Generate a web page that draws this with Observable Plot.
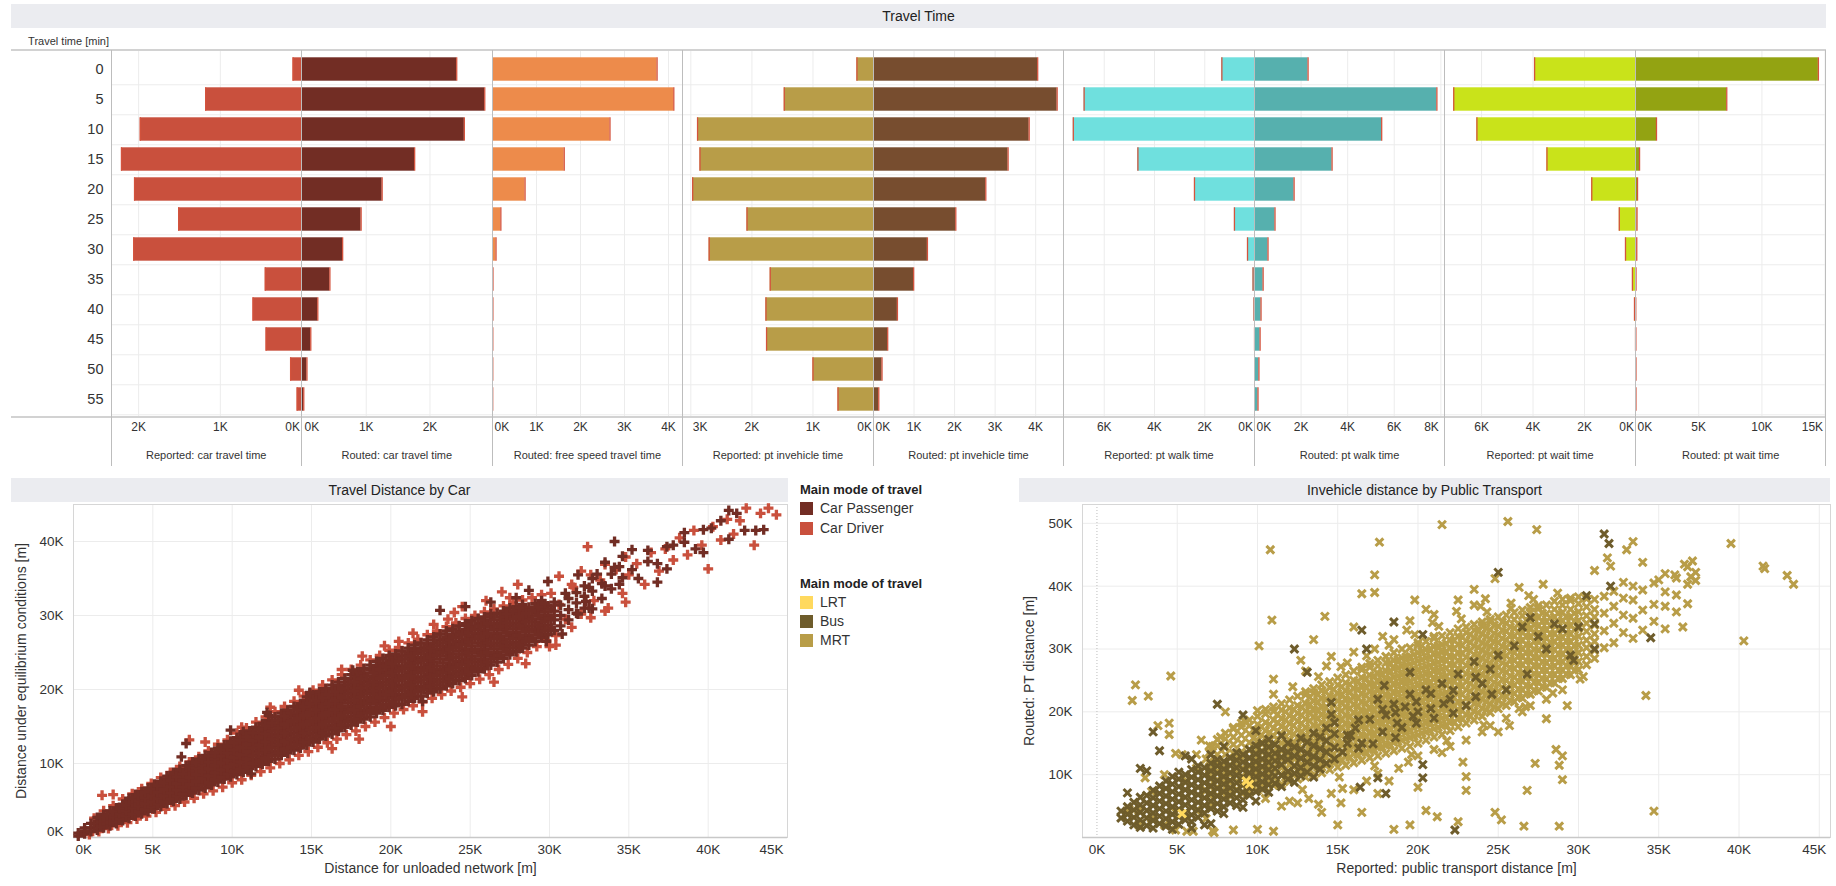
<!DOCTYPE html>
<html><head><meta charset="utf-8">
<script src="https://cdn.jsdelivr.net/npm/d3@7"></script>
<script src="https://cdn.jsdelivr.net/npm/@observablehq/plot@0.6"></script>
<style>
html,body{margin:0;padding:0;background:#fff;}
#root{position:relative;width:1836px;height:886px;overflow:hidden;font-family:"Liberation Sans",Arial,Helvetica,sans-serif;color:#333;}
#root svg{position:absolute;overflow:visible;}
.tbar{position:absolute;background:#ebecf0;color:#222;font-size:14px;display:flex;align-items:center;justify-content:center;}
.txt{position:absolute;white-space:nowrap;}
</style></head>
<body><div id="root"></div>
<script>
// ---------------- DATA ----------------
const travelTimeBins = [0,5,10,15,20,25,30,35,40,45,50,55];
const reportedCarTravelTime   = [110,1180,1980,2210,2050,1510,2060,450,600,440,140,60];
const routedCarTravelTime     = [2420,2860,2540,1760,1250,920,630,430,240,130,70,20];
const routedFreeSpeedTime     = [3740,4120,2670,1630,740,190,80,10,8,6,5,4];
const reportedPtInvehicleTime = [280,1470,2890,2850,2970,2080,2700,1700,1770,1760,1000,590];
const routedPtInvehicleTime   = [4050,4530,3840,3320,2770,2030,1330,990,590,350,210,130];
const reportedPtWalkTime      = [1320,6800,7230,4660,2410,820,300,80,40,20,10,10];
const routedPtWalkTime        = [2300,7830,5460,3330,1700,880,580,370,280,240,190,150];
const reportedPtWaitTime      = [3940,7080,6180,3460,1720,650,410,140,60,20,10,10];
const routedPtWaitTime        = [14470,7220,1660,320,160,120,100,40,20,20,10,10];
const panelLabels = ["Reported: car travel time","Routed: car travel time","Routed: free speed travel time",
  "Reported: pt invehicle time","Routed: pt invehicle time","Reported: pt walk time","Routed: pt walk time",
  "Reported: pt wait time","Routed: pt wait time"];
const panelTicks = [[0,1000,2000],[0,1000,2000],[0,1000,2000,3000,4000],[0,1000,2000,3000],[0,1000,2000,3000,4000],
  [0,2000,4000,6000],[0,2000,4000,6000,8000],[0,2000,4000,6000],[0,5000,10000,15000]];
const panelDomainMax = [2332,2990,4330,3120,4700,7580,8180,7400,15075];

// scatter points: each entry = [x, y1, y2, ...], thousands of metres
const carPassengerPoints = [
[0.3,0.2,0.6],[0.7,0.5,0.9,1.3],[1.1,0.8,1.3,1.9],[1.5,1.0,1.6,2.2,2.7],[1.9,1.3,1.9,2.5,3.1],[2.3,1.6,2.3,2.9,3.6],
[2.7,1.9,2.6,3.3,4.0],[3.1,2.3,3.0,3.7,4.5],[3.5,2.6,3.4,4.1,4.9,5.3],[3.9,2.9,3.7,4.5,5.2,5.8],[4.3,3.2,4.0,4.8,5.6,6.2],
[4.7,3.5,4.3,5.1,5.9,6.7],[5.1,3.9,4.7,5.5,6.3,7.2],[5.5,4.2,5.1,5.9,6.7,7.6],[5.9,4.6,5.4,6.2,7.1,7.9,8.3],
[6.3,4.9,5.8,6.6,7.5,8.4,8.8],[6.7,5.2,6.1,7.0,7.9,8.8,9.2],[7.1,5.7,6.6,7.4,8.3,9.2,9.7,12.7],[7.5,6.0,6.9,7.8,8.7,9.6,10.2],
[7.9,6.4,7.3,8.2,9.1,10.0,10.6],[8.3,6.7,7.6,8.6,9.5,10.4,11.1],[8.7,7.1,8.0,9.0,9.9,10.8,11.5],[9.1,7.5,8.4,9.4,10.3,11.2,12.1],
[9.5,7.9,8.8,9.8,10.7,11.7,12.5],[9.9,8.2,9.2,10.1,11.1,12.1,13.0,14.5],[10.3,8.5,9.5,10.5,11.5,12.5,13.5],
[10.7,8.8,9.8,10.9,11.9,12.9,13.9,14.3],[11.1,9.3,10.3,11.3,12.4,13.4,14.4],[11.5,9.6,10.6,11.7,12.8,13.8,14.9],
[11.9,9.9,11.0,12.1,13.2,14.3,15.4],[12.3,10.3,11.4,12.5,13.6,14.7,15.8,16.5],[12.7,10.6,11.7,12.9,14.0,15.1,16.3],
[13.1,11.1,12.2,13.3,14.5,15.6,16.8],[13.5,11.4,12.5,13.7,14.9,16.0,17.2],[13.9,11.8,12.9,14.1,15.3,16.5,17.7],
[14.3,12.1,13.3,14.5,15.7,16.9,18.1],[14.7,12.5,13.7,14.9,16.1,17.3,18.5,19.0],[15.1,12.9,14.1,15.3,16.5,17.7,18.9,19.3],
[15.5,13.3,14.5,15.7,16.9,18.1,19.3,19.7],[15.9,13.7,14.9,16.1,17.3,18.5,19.7,20.1],[16.3,14.0,15.2,16.5,17.7,18.9,20.1,20.6],
[16.7,14.4,15.6,16.9,18.1,19.3,20.5,21.0],[17.1,14.9,16.1,17.3,18.6,19.8,21.0,21.5],[17.5,15.2,16.4,17.7,19.0,20.2,21.4,22.0],
[17.9,15.6,16.8,18.1,19.4,20.6,21.8,22.4],[18.3,16.0,17.2,18.5,19.8,21.0,22.2,22.8],[18.7,16.3,17.6,18.9,20.2,21.4,22.7,23.3],
[19.1,16.8,18.1,19.3,20.6,21.9,23.1,23.8],[19.5,17.2,18.5,19.7,21.0,22.3,23.5,24.2],[19.9,17.6,18.9,20.1,21.4,22.7,23.9,24.6],
[20.3,17.8,19.1,20.4,21.6,22.9,24.2,24.8],[20.7,18.0,19.3,20.6,21.9,23.2,24.5,25.2],[21.1,18.4,19.7,21.0,22.3,23.6,24.9,25.6],
[21.5,18.8,20.1,21.4,22.7,24.0,25.3,26.0],[21.9,19.1,20.4,21.7,23.0,24.3,25.6,26.3],[22.3,19.5,20.8,22.1,23.4,24.7,26.0,26.7],
[22.7,19.7,21.0,22.3,23.7,25.0,26.3,27.1],[23.1,20.1,21.4,22.7,24.1,25.4,26.7,27.5,30.7],[23.5,20.5,21.8,23.1,24.5,25.8,27.1,27.9],
[23.9,20.8,22.1,23.4,24.8,26.1,27.4,28.2],[24.3,21.2,22.5,23.8,25.2,26.5,27.8,28.6],[24.7,21.5,22.8,24.1,25.5,26.8,28.1,28.9,31.2],
[25.1,21.9,23.2,24.5,25.9,27.2,28.5,29.3],[25.5,22.4,23.7,25.0,26.3,27.6,28.9,29.6],[25.9,22.8,24.1,25.4,26.7,28.0,29.3,29.8],
[26.3,23.3,24.6,25.9,27.2,28.5,29.8,30.2,31.8],[26.7,23.7,25.0,26.3,27.6,28.9,30.3],[27.1,24.2,25.5,26.8,28.1,29.4,30.6],
[27.5,24.7,26.0,27.3,28.6,29.9,31.0],[27.9,25.1,26.4,27.7,29.0,30.3,31.2,32.4],[28.3,25.6,26.9,28.2,29.5,30.7,31.5],
[28.7,26.0,27.3,28.6,29.9,31.1,33.4],[29.1,26.5,27.8,29.1,30.4,31.6],[29.5,27.0,28.3,29.6,30.9,32.0],[29.9,27.4,28.7,30.0,31.3,34.6],
[30.3,28.0,29.4,30.6,31.8],[30.7,28.6,30.0,31.4],
[1.7,1.5,2.1,2.7],[2.1,1.8,2.4,3.0],[2.5,2.2,2.8,3.5],[2.9,2.5,3.2,3.9],[3.3,2.9,3.6,4.3],[3.7,3.2,4.0,4.7,5.3],
[4.1,3.5,4.3,5.0,5.7],[4.5,3.8,4.6,5.4,6.1],[4.9,4.1,4.9,5.7,6.5],[5.3,4.5,5.3,6.1,7.0],[5.7,4.9,5.7,6.5,7.4],
[6.1,5.2,6.0,6.9,7.7],[6.5,5.6,6.4,7.3,8.2],[6.9,5.9,6.8,7.7,8.6],[7.3,6.4,7.2,8.1,9.0,9.6],[7.7,6.7,7.6,8.5,9.4,10.1],
[8.1,7.1,8.0,8.9,9.8,10.5],[8.5,7.4,8.3,9.3,10.2,11.0],[8.9,7.8,8.7,9.7,10.6,11.4],[9.3,8.2,9.1,10.1,11.0,11.9],
[9.7,8.6,9.5,10.5,11.4,12.3],[10.1,8.9,9.9,10.8,11.8,12.8],[10.5,9.2,10.2,11.2,12.2,13.2],[10.9,9.5,10.6,11.6,12.6,13.6],
[11.3,10.0,11.0,12.1,13.1,14.1],[11.7,10.3,11.4,12.5,13.5,14.6],[12.1,10.7,11.8,12.9,14.0,15.1],[12.5,11.1,12.2,13.3,14.4,15.5],
[12.9,11.4,12.5,13.7,14.8,15.9],[13.3,11.9,13.0,14.1,15.3,16.4],[13.7,12.2,13.3,14.5,15.7,16.8],[14.1,12.6,13.7,14.9,16.1,17.3],
[14.5,12.9,14.1,15.3,16.5,17.7],[14.9,13.3,14.5,15.7,16.9,18.1],[15.3,13.7,14.9,16.1,17.3,18.5],[15.7,14.1,15.3,16.5,17.7,18.9],
[16.1,14.5,15.7,16.9,18.1,19.3],[16.5,14.8,16.1,17.3,18.5,19.7],[16.9,15.2,16.5,17.7,18.9,20.1],[17.3,15.7,16.9,18.2,19.4,20.6],
[17.7,16.0,17.3,18.6,19.8,21.0],[18.1,16.4,17.7,19.0,20.2,21.4],[18.5,16.8,18.1,19.4,20.6,21.8],[18.9,17.2,18.5,19.8,21.0,22.3],
[19.3,17.6,18.9,20.2,21.5,22.7],[19.7,18.0,19.3,20.6,21.9,23.1],[20.1,18.4,19.7,21.0,22.3,23.5],[20.5,18.7,19.9,21.2,22.5,23.8],
[20.9,18.9,20.2,21.5,22.8,24.1],[21.3,19.3,20.6,21.9,23.2,24.5],[21.7,19.7,21.0,22.3,23.6,24.9],[22.1,20.0,21.3,22.6,23.9,25.2],
[22.5,20.4,21.7,23.0,24.3,25.6],[22.9,20.6,21.9,23.2,24.6,25.9],[23.3,21.0,22.3,23.6,25.0,26.3],[23.7,21.4,22.7,24.0,25.4,26.7],
[24.1,21.7,23.0,24.3,25.7,27.0],[24.5,22.1,23.4,24.7,26.1,27.4],[24.9,22.4,23.7,25.0,26.4,27.7],[25.3,22.8,24.1,25.4,26.8,28.1],
[25.7,23.3,24.6,25.9,27.2,28.5],[26.1,23.7,25.0,26.3,27.6,28.9],[26.5,24.2,25.5,26.8,28.1,29.4],[26.9,24.6,25.9,27.2,28.5,29.8],
[27.3,25.1,26.4,27.7,29.0,30.2],[27.7,25.6,26.9,28.2,29.5,30.6],[28.1,26.0,27.3,28.6,29.9,31.0],[28.5,26.5,27.8,29.1,30.3],
[28.9,26.9,28.2,29.5,30.7],[29.3,27.4,28.7,30.0,31.2],[29.7,27.9,29.2,30.5,31.6],[30.1,28.3,29.6,30.9],
[31.2,29.4,30.8,32.3],[31.7,30.3,31.7,33.1],[32.2,31.0,32.6,34.0],[32.7,30.9,33.3,35.0],[33.3,32.3,34.3],[33.9,33.6,35.6],[34.4,34.2,36.6],
[31.0,33.0],[31.8,35.5,30.2],[32.5,33.8,31.0],[33.0,35.6],[33.5,37.2,34.0],
[34.1,40.0,36.5],[34.6,38.0,35.1],[35.2,36.2,38.9],[35.6,35.0],[36.2,38.8,37.3],[36.8,37.0,34.5],[37.4,39.3,36.3],[37.8,39.5],
[38.5,41.2,39.9],[39.2,39.0],[39.7,38.5,41.6],[40.2,41.8],[40.8,42.8],[41.3,40.3,44.2],[41.8,43.8],[42.3,41.5],[43.0,41.5],
[43.5,41.6],[30.8,27.5],[29.8,26.5],[32.3,31.9],[6.8,10.9],[12.2,16.9],[14.9,19.6],[17.6,22.6],[11.2,8.6],[22.0,18.4]
];
const carDriverPoints = [
[1.0,0.4],[1.6,0.8],[2.2,1.2],[2.8,1.6],[3.4,2.0],[4.0,2.5],[4.6,2.9],[5.2,3.4],[5.8,3.8],[6.4,4.3],[7.0,4.8],[7.6,5.3],
[8.2,5.9],[8.8,6.3],[9.4,6.8],[10.0,7.4],[10.6,7.8],[11.2,8.4],[11.8,8.9],[12.4,9.4],[13.0,10.0],[13.6,10.5],[14.2,11.1],
[14.8,11.6],[15.4,12.2],[16.0,12.8],[16.6,13.3],[17.2,13.9],[17.8,14.4],[18.4,15.0],[19.0,15.6],[19.6,16.2],[20.2,16.8],
[20.8,17.3],[21.4,17.8],[22.0,18.3],[22.6,18.8],[23.2,19.3],[23.8,19.8],[24.4,20.3],[25.0,20.8],[25.6,21.4],[26.2,22.0],
[26.8,22.7],[27.4,23.4],[28.0,24.2],[28.6,25.0],[29.2,25.8],[29.8,26.6],[30.4,27.3],
[1.3,2.6],[1.9,3.6],[2.5,4.3],[3.1,5.2],[3.7,5.9],[4.3,6.6],[4.9,7.3],[5.5,8.1],[6.1,8.8],[6.7,9.6],[7.3,10.2],[7.9,10.9],
[8.5,11.7],[9.1,12.6],[9.7,13.2],[10.3,14.1],[10.9,14.8],[11.5,15.6],[12.1,16.3],[12.7,17.0],[13.3,17.7],[13.9,18.4],
[14.5,19.1],[15.1,19.9],[15.7,20.6],[16.3,21.3],[16.9,22.0],[17.5,22.7],[18.1,23.3],[18.7,24.0],[19.3,24.6],[19.9,25.3],
[20.5,25.7],[21.1,26.3],[21.7,26.8],[22.3,27.4],[22.9,27.9],[23.5,28.5],[24.1,29.0],[24.7,29.6],[25.3,30.0],[25.9,30.5],
[26.5,30.9],[27.1,31.3],[27.7,31.7],[28.3,32.1],[28.9,32.4],[29.5,32.8],[30.1,33.0],
[1.8,5.7],[2.5,5.8],[7.3,13.2],[8.3,12.9],[10.6,14.9],[12.4,17.6],[14.2,19.9],[16.9,22.7],[18.2,24.5],[19.6,25.9],[20.5,26.5],
[21.4,27.6],[22.7,28.8],[23.6,29.5],[24.5,31.2],[24.0,30.4],[18.0,13.3],[20.0,15.0],[22.0,17.0],[24.5,19.0],[26.5,21.0],
[28.5,23.5],[30.0,25.8],[27.5,32.4],[16.3,12.0],[31.4,28.4,34.2],[32.6,29.7,35.5],[33.5,30.6,36.9],[34.8,31.8,37.9],
[30.6,31.5,35.3],[31.0,29.5],[31.5,33.8],[32.0,30.2,36.0],[32.4,39.3],[32.8,32.0],[33.2,34.8],[33.7,31.0],[34.2,36.2],
[34.6,33.0],[35.0,35.5],[35.5,37.0],[36.0,34.2],[36.4,38.5],[36.9,36.0],[37.3,39.0],[37.8,37.5],[38.2,40.5],[38.7,38.2],
[39.1,41.5],[39.6,39.5],[40.0,36.3],[40.3,42.0],[40.8,40.2],[41.2,43.0],[41.6,41.0],[42.0,42.8],[42.4,44.5],[42.9,39.5],
[43.3,43.8],[43.8,44.5],[44.3,43.6],[30.4,26.0],[28.0,34.2],[27.0,33.2],[26.0,32.0]
];
const ptMrtPoints = [
[7.0,6.8,8.2,9.4,10.9,12.1,13.5,14.6],[7.5,6.7,8.0,9.2,10.6,11.9,13.2,14.6,15.6],[8.0,6.6,7.9,9.3,10.5,11.8,13.2,14.4,15.7,16.6],
[8.5,6.9,8.2,9.5,10.9,12.1,13.4,14.8,16.0,17.3],[9.0,7.1,8.4,9.7,11.0,12.4,13.6,15.0,16.3,17.6,18.2],
[9.5,7.3,8.6,10.0,11.2,12.6,13.9,15.1,16.5,17.8,18.7],[10.0,7.5,8.8,10.1,11.5,12.7,14.1,15.4,16.6,18.0,19.3,20.2],
[10.5,7.9,9.2,10.5,11.9,13.1,14.4,15.8,17.0,18.3,19.7,20.4],[11.0,8.3,9.6,10.9,12.3,13.5,14.8,16.2,17.4,18.7,20.1,20.8],
[11.5,8.5,9.9,11.1,12.5,13.8,15.0,16.4,17.7,18.9,20.3,21.3],[12.0,8.9,10.2,11.6,12.8,14.2,15.5,16.7,18.1,19.4,20.6,21.9],
[12.5,9.3,10.6,12.0,13.2,14.6,15.9,17.1,18.5,19.8,21.0,22.5],[13.0,9.6,10.9,12.3,13.5,14.9,16.2,17.4,18.8,20.1,21.3,22.7,23.2],
[13.5,9.9,11.3,12.5,13.9,15.2,16.4,17.8,19.1,20.3,21.7,23.0,23.7],[14.0,10.3,11.7,12.9,14.3,15.6,16.8,18.2,19.5,20.7,22.1,23.4,24.3],
[14.5,10.8,12.1,13.5,14.7,16.1,17.4,18.6,20.0,21.3,22.5,23.9,24.8],[15.0,11.2,12.5,13.9,15.1,16.5,17.8,19.0,20.4,21.7,22.9,24.3,25.4],
[15.5,11.5,12.9,14.1,15.5,16.8,18.0,19.4,20.7,21.9,23.3,24.6,25.9],[16.0,11.9,13.3,14.5,15.9,17.2,18.4,19.8,21.1,22.3,23.7,25.0,26.5],
[16.5,12.3,13.6,15.0,16.2,17.6,18.9,20.1,21.5,22.8,24.0,25.4,26.7,27.1],[17.0,12.7,14.0,15.4,16.6,18.0,19.3,20.5,21.9,23.2,24.4,25.8,27.1,27.7],
[17.5,13.0,14.4,15.6,17.0,18.3,19.5,20.9,22.2,23.4,24.8,26.1,27.3,28.2],[18.0,13.4,14.7,16.1,17.3,18.7,20.0,21.2,22.6,23.9,25.1,26.5,27.8,28.8],
[18.5,13.8,15.1,16.5,17.7,19.1,20.4,21.6,23.0,24.3,25.5,26.9,28.2,29.4],[19.0,14.2,15.5,16.9,18.1,19.5,20.8,22.0,23.4,24.7,25.9,27.3,28.6,30.0],
[19.5,14.5,15.9,17.1,18.5,19.8,21.0,22.4,23.7,24.9,26.3,27.6,28.8,30.2],[20.0,15.0,16.3,17.7,18.9,20.3,21.6,22.8,24.2,25.5,26.7,28.1,29.4,30.6,31.0],
[20.5,15.5,16.8,18.2,19.4,20.8,22.1,23.3,24.7,26.0,27.2,28.6,29.9,31.2],[21.0,16.0,17.3,18.7,19.9,21.3,22.6,23.8,25.2,26.5,27.7,29.1,30.4,31.7,32.0],
[21.5,16.4,17.8,19.0,20.4,21.7,22.9,24.3,25.6,26.8,28.2,29.5,30.7,32.1],[22.0,17.0,18.3,19.7,20.9,22.3,23.6,24.8,26.2,27.5,28.7,30.1,31.4,32.6],
[22.5,17.6,18.9,20.3,21.5,22.9,24.2,25.4,26.8,28.1,29.3,30.7,32.0,33.2],[23.0,18.2,19.5,20.9,22.1,23.5,24.8,26.0,27.4,28.7,29.9,31.3,32.6,33.5],
[23.5,18.7,20.1,21.3,22.7,24.0,25.2,26.6,27.9,29.1,30.5,31.8,33.0,33.9],[24.0,19.3,20.6,22.0,23.2,24.6,25.9,27.1,28.5,29.8,31.0,32.4,33.7,34.3],
[24.5,19.9,21.2,22.6,23.8,25.2,26.5,27.7,29.1,30.4,31.6,33.0,34.3,34.7],[25.0,20.5,21.8,23.2,24.4,25.8,27.1,28.3,29.7,31.0,32.2,33.6,35.1],
[25.5,21.0,22.4,23.6,25.0,26.3,27.5,28.9,30.2,31.4,32.8,34.1,35.4],[26.0,21.6,22.9,24.3,25.5,26.9,28.2,29.4,30.8,32.1,33.3,34.7,35.8],
[26.5,22.2,23.5,24.9,26.1,27.5,28.8,30.0,31.4,32.7,33.9,35.3,36.2],[27.0,22.8,24.1,25.5,26.7,28.1,29.4,30.6,32.0,33.3,34.5,35.9,36.6],
[27.5,23.3,24.7,25.9,27.3,28.6,29.8,31.2,32.5,33.7,35.1,36.4,36.9],[28.0,23.9,25.2,26.6,27.8,29.2,30.5,31.7,33.1,34.4,35.6,37.0],
[28.5,24.6,25.9,27.3,28.5,29.9,31.2,32.4,33.8,35.1,36.3,37.6],[29.0,25.3,26.6,28.0,29.2,30.6,31.9,33.1,34.5,35.8,37.0,37.9],
[29.5,25.9,27.3,28.5,29.9,31.2,32.4,33.8,35.1,36.3,37.7,38.1],[30.0,26.7,28.0,29.4,30.6,32.0,33.3,34.5,35.9,37.2,38.3],
[30.5,27.5,28.8,30.2,31.4,32.8,34.1,35.3,36.7,38.0],[31.0,28.5,29.8,31.2,32.4,33.8,35.1,36.3,37.9],[31.6,30.2,32.9,35.7,38.4],
[9.75,8.0,9.3,10.6,11.9,13.2,14.5,15.8,17.1],[10.25,8.5,9.8,11.1,12.4,13.7,15.0,16.3,17.6],[10.75,8.9,10.2,11.5,12.8,14.1,15.4,16.7,18.0],
[11.25,9.2,10.5,11.8,13.1,14.4,15.7,17.0,18.3,19.6],[11.75,9.6,10.9,12.2,13.5,14.8,16.1,17.4,18.7,20.0],
[12.25,10.0,11.3,12.6,13.9,15.2,16.5,17.8,19.1,20.4],[12.75,10.4,11.7,13.0,14.3,15.6,16.9,18.2,19.5,20.8],
[13.25,10.8,12.1,13.4,14.7,16.0,17.3,18.6,19.9,21.2,22.3],[13.75,11.2,12.5,13.8,15.1,16.4,17.7,19.0,20.3,21.6,22.8],
[14.25,11.6,12.9,14.2,15.5,16.8,18.1,19.4,20.7,22.0,23.2],[14.75,12.0,13.3,14.6,15.9,17.2,18.5,19.8,21.1,22.4,23.6],
[15.25,12.4,13.7,15.0,16.3,17.6,18.9,20.2,21.5,22.8,24.0],[15.75,12.8,14.1,15.4,16.7,18.0,19.3,20.6,21.9,23.2,24.4],
[16.25,13.2,14.5,15.8,17.1,18.4,19.7,21.0,22.3,23.6,24.9],[16.75,13.6,14.9,16.2,17.5,18.8,20.1,21.4,22.7,24.0,25.3],
[17.25,14.0,15.3,16.6,17.9,19.2,20.5,21.8,23.1,24.4,25.7],[17.75,14.4,15.7,17.0,18.3,19.6,20.9,22.2,23.5,24.8,26.1],
[18.25,14.8,16.1,17.4,18.7,20.0,21.3,22.6,23.9,25.2,26.5,27.8],[18.75,15.3,16.6,17.9,19.2,20.5,21.8,23.1,24.4,25.7,27.0,28.3],
[19.25,15.7,17.0,18.3,19.6,20.9,22.2,23.5,24.8,26.1,27.4,28.7],[19.75,16.1,17.4,18.7,20.0,21.3,22.6,23.9,25.2,26.5,27.8,29.1],
[20.25,16.6,17.9,19.2,20.5,21.8,23.1,24.4,25.7,27.0,28.3,29.6],[20.75,17.0,18.3,19.6,20.9,22.2,23.5,24.8,26.1,27.4,28.7,30.0],
[21.25,17.5,18.8,20.1,21.4,22.7,24.0,25.3,26.6,27.9,29.2,30.5],[21.75,17.9,19.2,20.5,21.8,23.1,24.4,25.7,27.0,28.3,29.6,30.9],
[22.25,18.4,19.7,21.0,22.3,23.6,24.9,26.2,27.5,28.8,30.1,31.4],[22.75,18.9,20.2,21.5,22.8,24.1,25.4,26.7,28.0,29.3,30.6,31.9],
[23.25,19.3,20.6,21.9,23.2,24.5,25.8,27.1,28.4,29.7,31.0,32.3],[23.75,19.8,21.1,22.4,23.7,25.0,26.3,27.6,28.9,30.2,31.5,32.8],
[24.25,20.3,21.6,22.9,24.2,25.5,26.8,28.1,29.4,30.7,32.0,33.3],[24.75,20.8,22.1,23.4,24.7,26.0,27.3,28.6,29.9,31.2,32.5,33.8],
[25.25,21.3,22.6,23.9,25.2,26.5,27.8,29.1,30.4,31.7,33.0,34.3],[25.75,21.8,23.1,24.4,25.7,27.0,28.3,29.6,30.9,32.2,33.5],
[26.25,22.3,23.6,24.9,26.2,27.5,28.8,30.1,31.4,32.7,34.0],[26.75,22.9,24.2,25.5,26.8,28.1,29.4,30.7,32.0,33.3,34.6],
[27.25,23.4,24.7,26.0,27.3,28.6,29.9,31.2,32.5,33.8,35.1],[27.75,24.0,25.3,26.6,27.9,29.2,30.5,31.8,33.1,34.4,35.7],
[28.25,24.6,25.9,27.2,28.5,29.8,31.1,32.4,33.7,35.0],[28.75,25.3,26.6,27.9,29.2,30.5,31.8,33.1,34.4,35.7],
[29.25,26.0,27.3,28.6,29.9,31.2,32.5,33.8,35.1],[29.75,26.6,27.9,29.2,30.5,31.8,33.1,34.4,35.7],
[12.2,24.0],[13.8,25.6],[15.2,27.2],[16.8,28.9],[18.2,30.6],[19.8,32.3],[21.3,33.6],[22.7,34.8],[24.3,35.9],[25.8,37.3],
[27.2,37.9],[28.7,38.9],[11.0,22.8],[14.6,28.8],[17.8,32.0],[20.9,34.2],[23.9,36.8],[26.9,38.5],
[10.5,6.2],[12.8,7.6],[15.1,9.6],[17.3,11.4],[19.6,13.2],[21.8,15.4],[24.1,17.9],[26.3,20.5],[28.4,23.0],[30.3,25.6],
[32.2,31.0,34.1,36.8,39.2],[32.8,32.6,35.4,38.1,40.6],[33.4,31.7,34.9,37.8,40.0],[34.0,33.0,36.2,39.4],[34.7,34.4,37.1,40.5],
[35.4,33.2,36.8,39.1,42.0],[36.1,35.9,38.6,41.3],[36.8,37.2,40.3,43.1],[37.3,40.9,42.2],
[2.2,21.8],[2.4,24.3],[3.2,22.5],[3.8,17.8],[4.5,18.2,16.4],[4.6,25.7],[10.8,45.8],[10.1,30.5],[10.9,34.6],[11.0,25.2,1.0],
[10.0,1.3],[6.0,1.0],[7.3,0.8],[8.5,1.2],[14.0,4.0],[15.0,2.0],[15.2,5.5],[16.5,4.0],[17.5,7.0],[18.5,1.3],[19.5,2.0],
[20.0,8.0],[20.5,4.3],[21.2,3.3],[22.5,2.5],[21.5,49.8],[25.6,50.3],[27.4,49.0],[17.6,47.0],[17.3,41.8,39.0],[16.5,38.8],
[19.8,37.8],[22.5,37.8],[24.8,41.2],[26.3,39.8],[27.8,40.3],[23.5,39.5,37.0],[22.8,12.0],[23.0,9.7,7.5],[24.8,4.0],[25.2,2.8],
[25.7,17.8],[25.0,16.8],[26.7,20.8],[26.8,7.5],[26.6,1.8],[27.3,11.8],[28.6,14.0],[29.0,13.0,9.2],[28.8,11.5,1.8],[28.0,18.9],
[29.3,21.0],[30.1,25.2],[31.0,42.5],[31.8,44.5],[32.0,43.2],[33.0,45.8],[33.4,47.1],[34.0,43.8],[34.2,22.6],[34.7,4.2],
[36.0,41.8],[36.6,43.5],[37.0,41.5],[37.1,44.0],[36.5,33.5],[39.5,46.8],[40.3,31.3],[41.5,43.2],[41.6,42.8],[43.0,41.7],
[43.4,40.3],[35.0,41.0],[16.0,33.5,29.5],[14.2,35.2],[13.5,31.5],[12.7,28.2],[19.3,33.0],[18.5,31.5],[19.5,34.5],[21.0,35.5],
[20.5,36.3],[24.2,38.0],[25.8,36.5],[22.4,36.0],[15.6,27.8],[14.3,27.3],[13.0,26.5],[17.3,30.0],
[2.6,2.0,4.3],[3.4,3.0,7.3],[4.2,2.0,10.0],[4.9,1.2,4.0,13.4],[5.6,1.0,3.2,9.0],[6.2,4.3,11.0,13.2],[6.8,3.0,7.5,12.5],
[7.2,1.1,5.0,10.5,14.5],[3.0,9.5],[2.0,4.5],[5.3,13.2],[6.5,15.5],[8.0,20.0],[8.5,17.5],[9.2,18.5],[7.7,16.0],
[12.5,5.5],[13.2,6.2],[13.8,5.3],[14.6,7.0],[15.3,7.8],[16.0,7.6],[16.8,9.0],[17.5,10.2],[18.2,9.0],[18.8,11.0],[19.4,12.0],
[20.0,13.0],[21.0,14.0],[21.5,13.5],[22.0,14.5],[23.0,15.5],[24.0,16.8],[24.5,17.8],[25.5,19.0],[26.5,20.0],[27.0,21.0],
[28.0,22.0],[29.0,23.5],[12.0,5.8],[11.5,5.0]
];
const ptBusPoints = [
[1.5,3.1,4.2],[1.9,2.6,3.7,4.9,7.1],[2.3,2.0,3.2,4.4,5.6],[2.7,1.6,2.8,4.0,5.2,6.4,11.0],[3.1,1.9,3.1,4.3,5.5,6.7,10.6],
[3.5,1.5,2.7,3.9,5.1,6.3,7.5,16.8],[3.9,2.2,3.4,4.6,5.8,7.0,8.2,13.8],[4.3,1.8,3.0,4.2,5.4,6.6,7.8,9.0],
[4.7,1.3,2.5,3.7,4.9,6.1,7.3,8.5,9.7],[5.1,2.1,3.3,4.5,5.7,6.9,8.1,9.3,10.4],[5.5,2.8,4.0,5.2,6.4,7.6,8.8,10.0,13.0],
[5.9,1.5,2.5,3.6,4.8,6.0,7.2,8.4,9.6,10.8,12.5],[6.3,3.2,4.4,5.6,6.8,8.0,9.2,10.4,11.4],[6.7,2.0,3.9,5.1,6.3,7.5,8.7,9.9,11.1],
[7.1,2.2,4.6,5.8,7.0,8.2,9.4,10.6,11.8,13.2],[7.5,4.2,5.4,6.6,7.8,9.0,10.2,11.4,12.4,21.2],[7.9,3.8,4.9,6.1,7.3,8.5,9.7,10.9,12.1,14.5],
[8.3,5.5,6.7,7.9,9.1,10.3,11.5,12.7],[8.7,5.1,6.3,7.5,8.7,9.9,11.1,12.3,13.5],[9.1,4.8,6.0,7.2,8.4,9.6,10.8,12.0,13.2,19.5],
[9.5,6.7,7.9,9.1,10.3,11.5,12.7,14.0],[9.9,5.8,7.3,8.5,9.7,10.9,12.1,13.3,14.6,17.0],[10.3,7.7,8.9,10.1,11.3,12.5,13.7,15.0],
[10.7,7.2,8.4,9.6,10.8,12.0,13.2,14.4,15.6],[11.1,8.6,9.8,11.0,12.2,13.4,14.8],[11.5,8.1,9.9,11.6,12.8,14.0,16.2],
[11.9,9.3,10.5,12.4,13.6,15.0],[12.3,8.8,10.2,11.4,13.0,14.4,30.0],[12.7,9.8,11.1,12.6,14.0,15.8],[13.1,10.4,12.0,13.4,15.2,26.3],
[13.5,9.6,11.4,12.9,14.6,16.6],[13.9,10.9,12.4,14.1,16.0],[14.3,11.8,13.6,15.4,17.4],[14.8,12.5,14.3,16.5,18.3],
[15.6,15.0,16.3],[16.3,14.2,18.7],[17.8,16.8,20.4],[18.6,15.9,19.9],[19.9,18.2,21.6],[20.8,20.5,22.9],[22.2,23.4,19.8],
[23.6,22.4,25.5],[17.9,24.2],[14.6,19.6,21.5],
[15.8,16.2],[16.5,15.0,33.0],[17.0,18.8],[17.5,22.0,9.5],[18.0,19.5,7.0],[18.5,21.2,34.3],[19.0,17.5],[19.5,22.8,26.3],[20.0,20.0],
[20.3,32.3,11.6,9.5],[20.5,23.5],[21.0,19.0],[21.5,24.5],[22.0,22.0],[22.3,1.2],[22.5,26.0],[23.0,21.0],[23.5,28.0],[24.0,24.5],
[24.5,26.8],[25.0,29.0,42.2],[25.5,23.5],[26.0,30.5],[26.5,33.5],[27.0,35.0],[27.5,32.0],[28.0,30.0],[28.5,34.0],[29.0,33.2],
[29.5,29.0],[30.0,33.5],[30.5,38.5],[31.0,34.0,30.0],[31.6,48.3],[31.9,46.8],[32.0,40.0],[34.5,31.8],[16.4,8.0],[16.8,30.0],
[19.7,19.3],[19.2,20.8],[18.7,18.2],[21.6,21.3],[24.6,22.8],[26.8,26.0],[29.7,28.2],[15.3,13.6],[16.1,17.4],[17.2,14.9]
];
const ptLrtPoints = [[9.3,9.0],[9.5,8.5],[5.3,3.8]];
const carTicks = [0,5,10,15,20,25,30,35,40,45];
const carYTicks = [0,10,20,30,40];
const ptXTicks = [0,5,10,15,20,25,30,35,40,45];
const ptYTicks = [10,20,30,40,50];
const legendCar = ["Car Passenger","Car Driver"];
const legendPt = ["LRT","Bus","MRT"];

// ---------------- STYLE ----------------
const FONT = '"Liberation Sans", Arial, Helvetica, sans-serif';
const C = {
  panels: ["#c9503d","#722d24","#ed8b4b","#b89d48","#774d2f","#6fe0de","#56b0ae","#c9e31a","#93a312"],
  edge: "#d4533d", grid: "#ececec",
  carPassenger: "#722d24", carDriver: "#c9503d", lrt: "#ffd95e", bus: "#6e5c2b", mrt: "#b89d48"
};
const panelReversed = [true,false,false,true,false,true,false,true,false];
const series = [reportedCarTravelTime, routedCarTravelTime, routedFreeSpeedTime, reportedPtInvehicleTime,
  routedPtInvehicleTime, reportedPtWalkTime, routedPtWalkTime, reportedPtWaitTime, routedPtWaitTime];

const root = document.getElementById("root");
function div(cls, left, top, w, h, css, text){
  const d = document.createElement("div");
  if (cls) d.className = cls;
  d.style.cssText = (css||"") + `;position:absolute;left:${left}px;top:${top}px;` + (w!=null?`width:${w}px;`:"") + (h!=null?`height:${h}px;`:"");
  if (text!=null) d.textContent = text;
  root.appendChild(d); return d;
}
function put(svg, left, top){ svg.style.left = left+"px"; svg.style.top = top+"px"; root.appendChild(svg); }
const fmtK = d => (d/1000) + "K";
const expand = cols => cols.flatMap(([x, ...ys]) => ys.map(y => ({x, y})));

// ---------------- TOP: TRAVEL TIME ----------------
div("tbar", 11, 4, 1815, 24, "", "Travel Time");
div("txt", 0, 34, 109, 14, "font-size:11px;text-align:right;line-height:14px;", "Travel time [min]");

const X0 = 111, PW = 190.55, TOP = 50, BH = 367, MB = 53;
const bw = BH / travelTimeBins.length;

put(Plot.plot({
  width: 106, height: BH + MB, marginTop: 0, marginBottom: MB, marginLeft: 0, marginRight: 3,
  y: {type: "band", domain: travelTimeBins, axis: null, padding: 0},
  style: {fontFamily: FONT, background: "transparent"},
  marks: [Plot.text(travelTimeBins, {y: d => d, text: d => String(d), frameAnchor: "right", textAnchor: "end", fontSize: 14.5, fill: "#333"})]
}), 0, TOP);

series.forEach((vals, i) => {
  const data = travelTimeBins.map((t, j) => ({t, v: vals[j]}));
  const max = panelDomainMax[i], rev = panelReversed[i], ticks = panelTicks[i];
  const anchorFor = d => d === 0 ? (rev ? "end" : "start") : ((d / max) * PW > PW - 9 ? (rev ? "start" : "end") : "middle");
  const textMarks = ["start","middle","end"].map(a => Plot.text(ticks.filter(d => anchorFor(d) === a), {
    x: d => d, text: fmtK, frameAnchor: "bottom", dy: 14, textAnchor: a,
    dx: a === "start" ? 2 : a === "end" ? -2 : 0, fontSize: 12, fill: "#333"
  }));
  const svg = Plot.plot({
    width: PW, height: BH + MB, marginTop: 0, marginBottom: MB, marginLeft: 0, marginRight: 0,
    x: {domain: [0, max], reverse: rev, axis: null},
    y: {type: "band", domain: travelTimeBins, axis: null, padding: 0},
    style: {fontFamily: FONT, background: "transparent", overflow: "visible"},
    marks: [
      Plot.ruleX(ticks.filter(d => d > 0), {stroke: C.grid}),
      Plot.ruleY(travelTimeBins, {dy: bw / 2, stroke: C.grid}),
      Plot.barX(data, {x: "v", y: "t", fill: C.panels[i], insetTop: 3.3, insetBottom: 3.3}),
      Plot.tickX(data, {x: "v", y: "t", stroke: C.edge, strokeWidth: 1.3, insetTop: 3.3, insetBottom: 3.3}),
      ...textMarks
    ]
  });
  put(svg, X0 + i * PW, TOP);
  div("txt", X0 + i * PW, 448, PW, 14, "font-size:11px;text-align:center;line-height:14px;", panelLabels[i]);
});
div("", 11, 49, 1815, 1.5, "background:#d2d2d2");
div("", 11, 416, 1815, 2, "background:#d2d2d2");
for (let k = 0; k <= 9; k++) div("", X0 + k * PW - 0.5, 50, 1, 416, "background:#bdbdbd");

// ---------------- BOTTOM LEFT: CAR SCATTER ----------------
div("tbar", 11, 478, 777, 24, "", "Travel Distance by Car");
{
  const drv = expand(carDriverPoints), pas = expand(carPassengerPoints);
  const xa = d => d === 0 ? "start" : d === 45 ? "end" : "middle";
  const svg = Plot.plot({
    width: 790, height: 384, marginTop: 2, marginBottom: 49, marginLeft: 73, marginRight: 3,
    x: {domain: [0, 45], axis: null}, y: {domain: [0, 45], axis: null},
    style: {fontFamily: FONT, background: "transparent", overflow: "visible"},
    marks: [
      Plot.ruleX(carTicks.filter(d => d > 0), {stroke: C.grid}),
      Plot.ruleY(carYTicks.filter(d => d > 0), {stroke: C.grid}),
      Plot.frame({stroke: "#d6d6d6"}),
      Plot.ruleY([0], {stroke: "#c8c8c8", strokeWidth: 1.5}),
      Plot.dot(drv, {x: "x", y: "y", symbol: "cross", r: 4.2, fill: C.carDriver, stroke: "none"}),
      Plot.dot(pas, {x: "x", y: "y", symbol: "cross", r: 4.2, fill: C.carPassenger, stroke: "none"}),
      ...["start","middle","end"].map(a => Plot.text(carTicks.filter(d => xa(d) === a), {x: d => d, text: d => d + "K",
        frameAnchor: "bottom", dy: 16, textAnchor: a, dx: a === "start" ? 2 : a === "end" ? -4 : 0, fontSize: 13.5, fill: "#333"})),
      Plot.text(carYTicks.filter(d => d > 0), {y: d => d, text: d => d + "K", frameAnchor: "left", textAnchor: "end", dx: -10, fontSize: 13.5, fill: "#333"}),
      Plot.text([0], {y: d => d, text: d => d + "K", frameAnchor: "left", textAnchor: "end", lineAnchor: "bottom", dx: -10, dy: -2, fontSize: 13.5, fill: "#333"}),
      Plot.text(["Distance for unloaded network [m]"], {frameAnchor: "bottom", textAnchor: "middle", dy: 35, fontSize: 14, fill: "#333"}),
      Plot.text(["Distance under equilibrium conditions [m]"], {frameAnchor: "left", textAnchor: "middle", dx: -52, rotate: -90, fontSize: 14, fill: "#333"})
    ]
  });
  put(svg, 0, 502);
}

// ---------------- LEGENDS ----------------
div("txt", 800, 482, null, 16, "font-size:13px;font-weight:bold;line-height:16px;color:#222", "Main mode of travel");
[C.carPassenger, C.carDriver].forEach((col, k) => {
  div("", 800, 501.5 + k * 20, 13, 13, "background:" + col);
  div("txt", 820, 500 + k * 20, null, 16, "font-size:14px;line-height:16px;color:#333", legendCar[k]);
});
div("txt", 800, 576, null, 16, "font-size:13px;font-weight:bold;line-height:16px;color:#222", "Main mode of travel");
[C.lrt, C.bus, C.mrt].forEach((col, k) => {
  div("", 800, 595.5 + k * 19, 13, 13, "background:" + col);
  div("txt", 820, 594 + k * 19, null, 16, "font-size:14px;line-height:16px;color:#333", legendPt[k]);
});

// ---------------- BOTTOM RIGHT: PT SCATTER ----------------
div("tbar", 1019, 478, 811, 24, "", "Invehicle distance by Public Transport");
{
  const mrt = expand(ptMrtPoints), bus = expand(ptBusPoints), lrt = expand(ptLrtPoints);
  const svg = Plot.plot({
    width: 826, height: 384, marginTop: 2, marginBottom: 49, marginLeft: 72, marginRight: 6,
    x: {domain: [-0.9, 45.7], axis: null}, y: {domain: [0, 53], axis: null},
    style: {fontFamily: FONT, background: "transparent", overflow: "visible"},
    marks: [
      Plot.ruleX(ptXTicks.filter(d => d > 0), {stroke: C.grid}),
      Plot.ruleY(ptYTicks, {stroke: C.grid}),
      Plot.ruleX([0], {stroke: "#bdbdbd", strokeDasharray: "1,2"}),
      Plot.frame({stroke: "#d6d6d6"}),
      Plot.ruleY([0], {stroke: "#c8c8c8", strokeWidth: 1.5}),
      Plot.dot(mrt, {x: "x", y: "y", symbol: "times", r: 3.6, stroke: C.mrt, strokeWidth: 3}),
      Plot.dot(bus, {x: "x", y: "y", symbol: "times", r: 3.6, stroke: C.bus, strokeWidth: 3}),
      Plot.dot(lrt, {x: "x", y: "y", symbol: "times", r: 3.6, stroke: C.lrt, strokeWidth: 3}),
      Plot.text(ptXTicks.filter(d => d < 45), {x: d => d, text: d => d + "K", frameAnchor: "bottom", textAnchor: "middle", dy: 16, fontSize: 13.5, fill: "#333"}),
      Plot.text([45], {x: d => d, text: d => d + "K", frameAnchor: "bottom", dy: 16, textAnchor: "end", dx: 7, fontSize: 13.5, fill: "#333"}),
      Plot.text(ptYTicks, {y: d => d, text: d => d + "K", frameAnchor: "left", textAnchor: "end", dx: -10, fontSize: 13.5, fill: "#333"}),
      Plot.text(["Reported: public transport distance [m]"], {frameAnchor: "bottom", textAnchor: "middle", dy: 35, fontSize: 14, fill: "#333"}),
      Plot.text(["Routed: PT distance [m]"], {frameAnchor: "left", textAnchor: "middle", dx: -53, rotate: -90, fontSize: 14, fill: "#333"})
    ]
  });
  put(svg, 1010, 502);
}
</script>
</body></html>
